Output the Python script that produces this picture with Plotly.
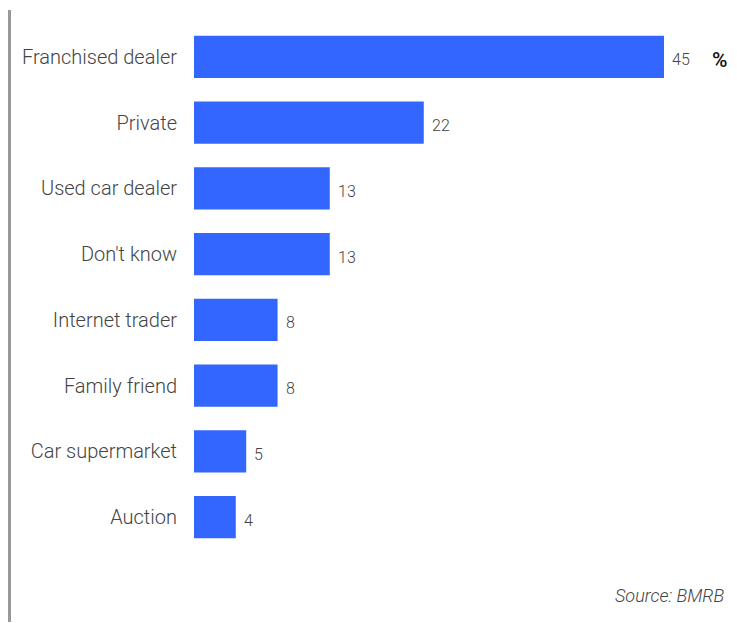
import plotly.graph_objects as go

# Where used cars were bought (%)
categories = [
    "Franchised dealer",
    "Private",
    "Used car dealer",
    "Don't know",
    "Internet trader",
    "Family friend",
    "Car supermarket",
    "Auction",
]
shares = [45, 22, 13, 13, 8, 8, 5, 4]

BAR_BLUE = "#3366FF"
TEXT_GREY = "#444444"
FONT = "Roboto"

fig = go.Figure()
fig.add_trace(
    go.Bar(
        x=shares,
        y=categories,
        orientation="h",
        marker=dict(color=BAR_BLUE, line=dict(width=0)),
        hoverinfo="skip",
    )
)

# value labels just past the end of each bar
for cat, val in zip(categories, shares):
    fig.add_annotation(
        x=val, y=cat, xref="x", yref="y",
        text=str(val), showarrow=False,
        xanchor="left", yanchor="middle", xshift=6, yshift=-3,
        font=dict(family=FONT, size=16, color=TEXT_GREY, weight=300),
    )

# unit marker next to the first bar
fig.add_annotation(
    x=(719.5 - 194) / 513, y=categories[0], xref="paper", yref="y",
    text="%", showarrow=False, xanchor="center", yanchor="middle", yshift=-3,
    font=dict(family=FONT, size=21, color="#111111", weight=500),
)

# source note
fig.add_annotation(
    x=(726 - 194) / 513, y=(623 - 73 - 595) / 526, xref="paper", yref="paper",
    text="<i>Source: BMRB</i>", showarrow=False, xanchor="right", yanchor="middle",
    font=dict(family=FONT, size=18, color=TEXT_GREY, weight=300),
)

# vertical rule on the left edge
fig.add_shape(
    type="line", xref="paper", yref="paper",
    x0=(9.5 - 194) / 513, x1=(9.5 - 194) / 513,
    y0=(623 - 73 - 622) / 526, y1=(623 - 73 - 10) / 526,
    line=dict(color="#999999", width=3),
)

fig.update_layout(
    width=737, height=623,
    margin=dict(l=194, r=30, t=24, b=73),
    paper_bgcolor="white", plot_bgcolor="white",
    bargap=0.36,
    showlegend=False,
    xaxis=dict(range=[0, 513 / (470 / 45)], visible=False, fixedrange=True),
    yaxis=dict(
        autorange="reversed",
        showgrid=False, showline=False, zeroline=False, ticks="",
        ticklabelstandoff=16,
        tickfont=dict(family=FONT, size=20, color=TEXT_GREY, weight=300),
    ),
)

fig.write_html("out.html")
